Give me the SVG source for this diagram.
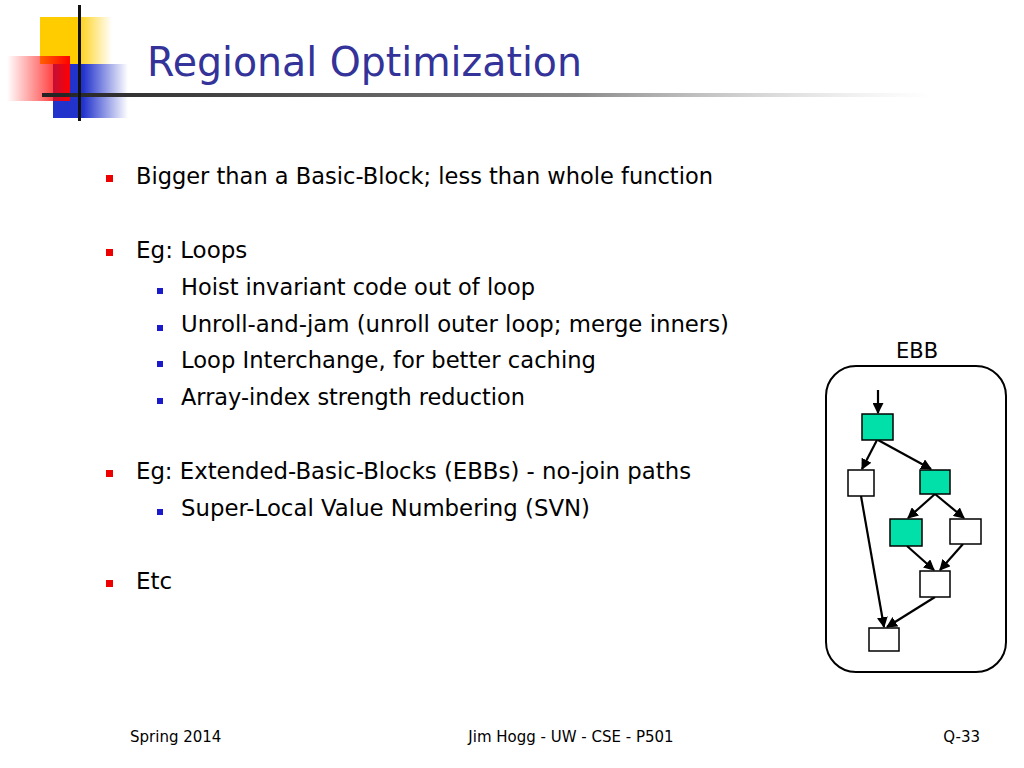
<svg xmlns="http://www.w3.org/2000/svg" width="1024" height="768" viewBox="0 0 1024 768">
<style>
.t{font-family:"DejaVu Sans","Liberation Sans",sans-serif;fill:#000}
.b{font-size:23px}
.f{font-size:15px}
.g{fill:#00e0a8;stroke:#000;stroke-width:1.5}
.w{fill:#fff;stroke:#000;stroke-width:1.5}
.e{stroke:#000;stroke-width:2.2;fill:none;marker-end:url(#ah)}
</style>
<defs>
<marker id="ah" viewBox="0 0 10 10" refX="9" refY="5" markerWidth="5" markerHeight="5" orient="auto"><path d="M0,0L10,5L0,10z" fill="#000"/></marker>
<linearGradient id="gy" x1="0" x2="1"><stop offset="0.5" stop-color="#ffcc00"/><stop offset="1" stop-color="#ffcc00" stop-opacity="0"/></linearGradient>
<linearGradient id="gr" x1="0" x2="1"><stop offset="0" stop-color="#ff0000" stop-opacity="0"/><stop offset="1" stop-color="#ff0000"/></linearGradient>
<linearGradient id="gb" x1="0" x2="1"><stop offset="0.4" stop-color="#2233cc"/><stop offset="1" stop-color="#2233cc" stop-opacity="0"/></linearGradient>
<linearGradient id="gl" x1="0" x2="1"><stop offset="0" stop-color="#222"/><stop offset="0.6" stop-color="#888"/><stop offset="1" stop-color="#ccc" stop-opacity="0"/></linearGradient>
</defs>
<rect width="1024" height="768" fill="#fff"/>
<g id="logo">
<rect x="40" y="17" width="72" height="47" fill="url(#gy)"/>
<rect x="53" y="64" width="75" height="54" fill="url(#gb)"/>
<rect x="7" y="56" width="63" height="45" fill="url(#gr)"/>
<rect x="42" y="93" width="890" height="4" fill="url(#gl)"/>
<rect x="78" y="5" width="3" height="116" fill="#111"/>
</g>
<text x="147" y="76" font-family="DejaVu Sans,sans-serif" font-size="40" fill="#333399" textLength="435" lengthAdjust="spacingAndGlyphs">Regional Optimization</text>
<g id="bullets">
<rect x="106" y="175" width="7" height="7" fill="#e00"/>
<rect x="106" y="249" width="7" height="7" fill="#e00"/>
<rect x="106" y="470" width="7" height="7" fill="#e00"/>
<rect x="106" y="580" width="7" height="7" fill="#e00"/>
<rect x="157" y="288" width="6" height="6" fill="#1a1acc"/>
<rect x="157" y="325" width="6" height="6" fill="#1a1acc"/>
<rect x="157" y="361" width="6" height="6" fill="#1a1acc"/>
<rect x="157" y="398" width="6" height="6" fill="#1a1acc"/>
<rect x="157" y="509" width="6" height="6" fill="#1a1acc"/>
<text class="t b" x="136" y="184" textLength="577" lengthAdjust="spacingAndGlyphs">Bigger than a Basic-Block; less than whole function</text>
<text class="t b" x="136" y="258">Eg: Loops</text>
<text class="t b" x="181" y="295" textLength="354" lengthAdjust="spacingAndGlyphs">Hoist invariant code out of loop</text>
<text class="t b" x="181" y="332" textLength="548" lengthAdjust="spacingAndGlyphs">Unroll-and-jam (unroll outer loop; merge inners)</text>
<text class="t b" x="181" y="368" textLength="415" lengthAdjust="spacingAndGlyphs">Loop Interchange, for better caching</text>
<text class="t b" x="181" y="405" textLength="344" lengthAdjust="spacingAndGlyphs">Array-index strength reduction</text>
<text class="t b" x="136" y="479" textLength="555" lengthAdjust="spacingAndGlyphs">Eg: Extended-Basic-Blocks (EBBs) - no-join paths</text>
<text class="t b" x="181" y="516" textLength="409" lengthAdjust="spacingAndGlyphs">Super-Local Value Numbering (SVN)</text>
<text class="t b" x="136" y="589">Etc</text>
</g>
<text class="t" x="917" y="358" font-size="21" text-anchor="middle">EBB</text>
<rect x="826" y="366" width="180" height="306" rx="30" fill="none" stroke="#000" stroke-width="2"/>
<g id="connectors">
<line class="e" x1="878" y1="390" x2="878" y2="413"/>
<line class="e" x1="877" y1="440" x2="862" y2="469"/>
<line class="e" x1="878" y1="440" x2="931" y2="469"/>
<line class="e" x1="935" y1="494" x2="908" y2="518"/>
<line class="e" x1="935" y1="494" x2="964" y2="518"/>
<line class="e" x1="907" y1="546" x2="934" y2="570"/>
<line class="e" x1="963" y1="544" x2="940" y2="570"/>
<line class="e" x1="861" y1="496" x2="884" y2="627"/>
<line class="e" x1="935" y1="597" x2="887" y2="627"/>
</g>
<g id="nA"><rect class="g" x="862" y="414" width="31" height="26"/></g>
<g id="nB"><rect class="w" x="848" y="470" width="26" height="26"/></g>
<g id="nC"><rect class="g" x="920" y="470" width="30" height="24"/></g>
<g id="nD"><rect class="g" x="890" y="519" width="32" height="27"/></g>
<g id="nE"><rect class="w" x="950" y="519" width="31" height="25"/></g>
<g id="nF"><rect class="w" x="920" y="571" width="30" height="26"/></g>
<g id="nG"><rect class="w" x="869" y="628" width="30" height="23"/></g>
<text class="t f" x="130" y="742">Spring 2014</text>
<text class="t f" x="571" y="742" text-anchor="middle">Jim Hogg - UW - CSE - P501</text>
<text class="t f" x="980" y="742" text-anchor="end">Q-33</text>
</svg>
